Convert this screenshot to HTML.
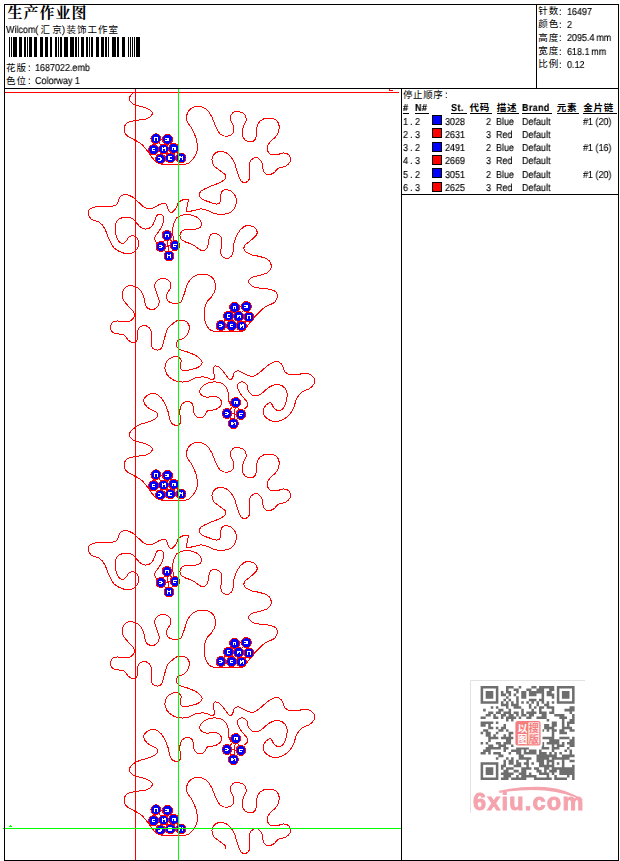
<!DOCTYPE html>
<html><head><meta charset="utf-8"><title>worksheet</title>
<style>
html,body{margin:0;padding:0;background:#fff}
body{width:620px;height:861px;position:relative;overflow:hidden;font-family:"Liberation Sans",sans-serif;font-size:9px;color:#000}
svg{position:absolute;left:0;top:0}
.t{position:absolute;white-space:pre;line-height:11px;height:11px;transform-origin:0 0;transform:scaleX(0.89);font-size:10.1px;text-rendering:geometricPrecision;-webkit-text-stroke:0.15px #000;will-change:transform}
.b{font-weight:bold;letter-spacing:0.4px}
.u{border-bottom:1px solid #000;height:11px;line-height:11px}
.r{text-align:right}
.sw{position:absolute;width:8px;height:8px;border:1px solid #000}
.logo{position:absolute;left:473.3px;top:787.6px;width:116px;font-weight:bold;font-size:23.5px;line-height:28px;color:#f5a3ad;letter-spacing:1.2px;white-space:pre;-webkit-text-stroke:0.9px #f5a3ad;will-change:transform}
.cj{font-family:"Liberation Sans","Noto Sans CJK SC",sans-serif;font-size:9.5px;fill:#000}
.cjb{font-family:"Liberation Sans","Noto Sans CJK SC",sans-serif;font-size:9.5px;font-weight:bold;fill:#000}
</style></head><body>
<svg width="620" height="861" viewBox="0 0 620 861">
<g transform="translate(-0.3,0.5)"><path d="M134.3 91.8C133.7 92.3 131.6 93.9 130.8 95.0C130.1 96.1 129.7 97.3 129.8 98.5C129.9 99.7 130.6 101.0 131.6 102.0C132.6 103.0 133.9 103.8 136.0 104.6C138.1 105.4 141.5 105.7 144.0 106.6C146.5 107.5 149.6 108.8 151.0 110.0C152.4 111.2 153.1 112.3 152.6 113.6C152.1 114.9 150.2 117.0 147.8 118.0C145.4 119.0 141.3 119.1 138.0 119.8C134.7 120.5 130.3 120.6 128.0 122.0C125.7 123.4 124.6 125.8 124.4 128.0C124.2 130.2 125.4 133.2 127.0 135.0C128.6 136.8 131.7 137.7 134.0 139.0C136.3 140.3 139.2 141.7 141.0 143.0C142.8 144.3 143.6 145.3 145.0 147.0C146.4 148.7 148.0 151.0 149.5 153.0C151.0 155.0 152.4 157.3 154.0 159.0C155.6 160.7 157.0 162.2 159.0 163.0C161.0 163.8 163.2 163.8 166.0 164.0C168.8 164.2 172.7 164.0 176.0 164.0C179.3 164.0 183.3 164.5 186.0 163.8C188.7 163.1 190.2 162.0 192.0 160.0C193.8 158.0 196.2 155.3 197.0 152.0C197.8 148.7 197.8 144.0 197.0 140.0C196.2 136.0 193.7 131.3 192.0 128.0C190.3 124.7 187.7 122.7 187.0 120.0C186.3 117.3 187.0 114.2 188.0 112.0C189.0 109.8 191.0 108.0 193.0 107.0C195.0 106.0 197.7 105.7 200.0 106.0C202.3 106.3 205.0 107.3 207.0 109.0C209.0 110.7 210.5 113.2 212.0 116.0C213.5 118.8 214.5 123.0 216.0 126.0C217.5 129.0 219.0 132.4 221.0 134.0C223.0 135.6 225.9 135.9 228.0 135.6C230.1 135.3 232.7 133.8 233.6 132.0C234.5 130.2 234.1 127.3 233.6 125.0C233.1 122.7 230.5 120.1 230.4 118.0C230.3 115.9 231.6 113.6 233.0 112.4C234.4 111.2 237.0 110.7 239.0 111.0C241.0 111.3 243.8 112.5 245.0 114.0C246.2 115.5 246.7 117.7 246.4 120.0C246.1 122.3 243.6 125.3 243.0 128.0C242.4 130.7 242.2 133.8 243.0 136.0C243.8 138.2 246.2 140.3 248.0 141.0C249.8 141.7 252.5 141.4 254.0 140.4C255.5 139.4 256.5 137.2 257.0 135.0C257.5 132.8 256.3 129.5 257.0 127.0C257.7 124.5 259.0 121.6 261.0 120.0C263.0 118.4 266.3 117.6 269.0 117.6C271.7 117.6 275.2 118.4 277.0 120.0C278.8 121.6 279.6 124.5 279.6 127.0C279.6 129.5 278.6 132.5 277.0 135.0C275.4 137.5 271.6 139.8 270.0 142.0C268.4 144.2 267.2 146.0 267.4 148.0C267.6 150.0 269.2 153.0 271.0 154.0C272.8 155.0 275.8 154.3 278.0 154.0C280.2 153.7 282.1 152.2 284.0 152.4C285.9 152.6 288.5 153.6 289.6 155.0C290.7 156.4 291.0 159.2 290.4 161.0C289.8 162.8 287.9 164.5 286.0 165.6C284.1 166.7 281.0 166.5 279.0 167.6C277.0 168.7 275.8 171.3 274.0 172.4C272.2 173.5 269.7 174.6 268.0 174.4C266.3 174.2 264.9 172.9 264.0 171.0C263.1 169.1 263.2 165.2 262.4 163.0C261.6 160.8 260.4 158.9 259.0 158.0C257.6 157.1 255.5 156.9 254.0 157.6C252.5 158.3 250.7 159.6 250.0 162.0C249.3 164.4 250.0 169.3 250.0 172.0C250.0 174.7 250.7 176.3 250.0 178.0C249.3 179.7 247.5 181.7 246.0 182.0C244.5 182.3 242.3 181.5 241.0 180.0C239.7 178.5 239.0 175.8 238.0 173.0C237.0 170.2 236.3 166.0 235.0 163.0C233.7 160.0 232.0 157.0 230.0 155.0C228.0 153.0 225.3 151.4 223.0 151.0C220.7 150.6 217.8 151.2 216.0 152.4C214.2 153.6 212.7 155.9 212.4 158.0C212.1 160.1 212.7 163.0 214.0 165.0C215.3 167.0 218.1 168.4 220.0 170.0C221.9 171.6 224.8 172.9 225.6 174.4C226.4 175.9 226.3 177.6 225.0 179.0C223.7 180.4 220.8 181.7 218.0 183.0C215.2 184.3 210.8 185.7 208.0 187.0C205.2 188.3 202.4 189.7 201.0 191.0C199.6 192.3 199.1 193.7 199.4 195.0C199.7 196.3 201.2 197.9 203.0 199.0C204.8 200.1 207.7 200.8 210.0 201.6C212.3 202.4 215.2 203.7 217.0 203.6C218.8 203.5 220.3 202.4 221.0 201.0C221.7 199.6 220.7 196.8 221.0 195.0C221.3 193.2 221.8 190.9 223.0 190.0C224.2 189.1 226.3 189.1 228.0 189.4C229.7 189.7 231.6 190.6 233.0 192.0C234.4 193.4 236.0 195.7 236.4 198.0C236.8 200.3 236.5 203.7 235.6 206.0C234.7 208.3 233.1 210.3 231.0 211.6C228.9 212.9 225.7 213.8 223.0 214.0C220.3 214.2 217.7 213.7 215.0 213.0C212.3 212.3 209.3 210.4 207.0 209.6C204.7 208.8 203.2 208.3 201.0 208.4C198.8 208.5 196.3 209.6 194.0 210.0C191.7 210.4 188.1 211.8 187.0 211.0C185.9 210.2 187.4 207.0 187.6 205.0C187.8 203.0 189.2 199.9 188.4 199.0C187.6 198.1 184.6 198.9 183.0 199.4C181.4 199.9 180.2 200.6 179.0 202.0C177.8 203.4 177.2 206.3 176.0 208.0C174.8 209.7 173.2 211.7 172.0 212.0C170.8 212.3 170.0 211.5 169.0 210.0C168.0 208.5 167.5 204.0 166.0 203.0C164.5 202.0 162.3 203.2 160.0 204.0C157.7 204.8 154.5 207.5 152.0 208.0C149.5 208.5 147.3 208.2 145.0 207.0C142.7 205.8 140.2 202.8 138.0 201.0C135.8 199.2 134.2 197.2 132.0 196.0C129.8 194.8 127.0 193.8 125.0 194.0C123.0 194.2 121.3 195.3 120.0 197.0C118.7 198.7 118.7 202.5 117.0 204.0C115.3 205.5 113.2 205.7 110.0 206.0C106.8 206.3 101.2 205.7 98.0 206.0C94.8 206.3 92.6 206.8 91.0 208.0C89.4 209.2 88.2 211.2 88.4 213.0C88.6 214.8 90.1 217.5 92.0 219.0C93.9 220.5 97.8 220.5 100.0 222.0C102.2 223.5 103.5 225.3 105.0 228.0C106.5 230.7 107.5 234.8 109.0 238.0C110.5 241.2 111.8 244.7 114.0 247.0C116.2 249.3 119.2 251.0 122.0 252.0C124.8 253.0 128.5 253.5 131.0 253.0C133.5 252.5 135.7 250.8 137.0 249.0C138.3 247.2 139.2 244.2 139.0 242.0C138.8 239.8 137.1 237.0 135.6 236.0C134.1 235.0 131.6 235.2 130.0 236.0C128.4 236.8 127.3 239.8 126.0 241.0C124.7 242.2 123.3 243.3 122.0 243.0C120.7 242.7 119.1 241.2 118.0 239.0C116.9 236.8 115.8 233.0 115.6 230.0C115.4 227.0 115.8 223.2 117.0 221.0C118.2 218.8 120.8 217.7 123.0 217.0C125.2 216.3 128.0 216.5 130.0 217.0C132.0 217.5 133.3 218.5 135.0 220.0C136.7 221.5 138.2 224.6 140.0 226.0C141.8 227.4 144.0 228.6 146.0 228.6C148.0 228.6 150.5 227.4 152.0 226.0C153.5 224.6 154.2 221.8 155.0 220.0C155.8 218.2 156.0 216.0 157.0 215.0C158.0 214.0 159.8 213.7 161.0 214.0C162.2 214.3 163.7 215.3 164.0 217.0C164.3 218.7 163.8 221.7 163.0 224.0C162.2 226.3 160.3 228.8 159.0 231.0C157.7 233.2 155.3 235.0 155.0 237.0C154.7 239.0 156.7 242.0 157.0 243.0M174.0 241.0C173.8 239.5 173.1 234.6 173.0 232.0C172.9 229.4 173.0 227.6 173.5 225.4C174.0 223.2 175.2 220.1 176.0 218.6C176.8 217.1 177.1 216.9 178.4 216.2C179.7 215.5 181.8 214.7 183.7 214.3C185.5 213.9 187.4 213.7 189.5 214.0C191.6 214.3 194.4 215.2 196.3 216.2C198.2 217.2 199.8 218.6 200.7 220.0C201.6 221.4 201.8 223.2 201.6 224.5C201.3 225.8 200.6 227.1 199.2 227.8C197.8 228.5 195.5 228.6 193.4 228.8C191.3 229.0 188.4 228.5 186.6 228.8C184.8 229.1 183.4 229.7 182.3 230.7C181.2 231.7 180.5 233.3 180.3 234.6C180.1 235.9 180.4 237.4 181.3 238.5C182.2 239.6 183.8 240.5 185.6 241.4C187.4 242.3 190.3 242.8 192.4 243.8C194.5 244.9 196.4 246.6 198.2 247.7C200.0 248.8 201.4 250.5 203.0 250.4C204.6 250.3 206.6 248.7 207.6 247.0C208.6 245.3 208.4 242.1 209.0 240.0C209.6 237.9 209.8 235.6 211.0 234.4C212.2 233.2 214.3 232.7 216.0 233.0C217.7 233.3 220.0 234.2 221.0 236.0C222.0 237.8 222.0 241.3 222.0 244.0C222.0 246.7 220.7 249.8 221.0 252.0C221.3 254.2 222.7 256.1 224.0 257.0C225.3 257.9 227.5 258.3 229.0 257.6C230.5 256.9 232.2 255.3 233.0 253.0C233.8 250.7 233.2 247.3 234.0 244.0C234.8 240.7 236.3 235.9 238.0 233.0C239.7 230.1 242.0 227.7 244.0 226.4C246.0 225.1 248.0 224.7 250.0 225.0C252.0 225.3 254.8 226.5 256.0 228.0C257.2 229.5 257.8 232.0 257.0 234.0C256.2 236.0 253.0 238.2 251.0 240.0C249.0 241.8 246.0 243.3 245.0 245.0C244.0 246.7 244.0 248.5 245.0 250.0C246.0 251.5 248.5 253.0 251.0 254.0C253.5 255.0 257.2 255.2 260.0 256.0C262.8 256.8 266.1 257.5 268.0 259.0C269.9 260.5 271.6 262.8 271.6 265.0C271.6 267.2 270.1 270.3 268.0 272.0C265.9 273.7 261.7 274.2 259.0 275.0C256.3 275.8 253.7 276.1 252.0 277.0C250.3 277.9 249.2 279.3 249.0 280.5C248.8 281.7 249.7 283.0 250.5 284.0C251.3 285.0 252.4 285.7 254.0 286.3C255.6 286.9 257.7 287.4 260.0 287.7C262.3 288.0 265.6 288.0 268.0 288.4C270.4 288.8 273.1 289.4 274.7 290.3C276.3 291.2 277.2 292.6 277.6 294.0C278.0 295.4 277.5 297.2 277.0 298.5C276.5 299.8 275.9 300.9 274.7 301.9C273.5 302.9 271.6 303.5 270.0 304.3C268.4 305.1 266.8 305.5 265.0 306.8C263.2 308.1 261.1 310.2 259.2 312.1C257.3 314.0 255.3 316.1 253.4 318.4C251.5 320.6 249.1 323.7 247.6 325.6C246.1 327.5 245.7 328.7 244.6 329.6C243.5 330.5 242.8 330.9 241.0 331.2C239.2 331.5 236.7 331.4 234.0 331.4C231.3 331.4 228.0 331.4 225.0 331.4C222.0 331.4 218.5 331.6 216.0 331.2C213.5 330.8 211.7 330.5 210.0 329.0C208.3 327.5 206.5 324.8 205.6 322.0C204.7 319.2 204.2 315.3 204.4 312.0C204.6 308.7 205.7 304.7 207.0 302.0C208.3 299.3 210.6 298.2 212.0 296.0C213.4 293.8 215.1 291.5 215.6 289.0C216.1 286.5 215.9 283.3 215.0 281.0C214.1 278.7 212.2 276.2 210.0 275.0C207.8 273.8 204.7 273.4 202.0 273.6C199.3 273.8 196.3 274.4 194.0 276.0C191.7 277.6 189.5 280.3 188.0 283.0C186.5 285.7 186.2 288.9 185.0 292.0C183.8 295.1 182.8 299.8 181.0 301.6C179.2 303.4 176.2 303.3 174.0 303.0C171.8 302.7 169.2 301.5 168.0 300.0C166.8 298.5 166.5 296.2 167.0 294.0C167.5 291.8 170.5 289.2 171.0 287.0C171.5 284.8 171.2 282.5 170.0 281.0C168.8 279.5 166.0 278.2 164.0 278.0C162.0 277.8 159.5 278.4 158.0 279.6C156.5 280.8 155.2 282.8 155.0 285.0C154.8 287.2 156.2 290.3 157.0 293.0C157.8 295.7 159.6 298.7 159.6 301.0C159.6 303.3 158.4 305.7 157.0 307.0C155.6 308.3 152.8 309.3 151.0 309.0C149.2 308.7 147.2 307.2 146.0 305.0C144.8 302.8 145.0 298.7 144.0 296.0C143.0 293.3 141.7 290.7 140.0 289.0C138.3 287.3 136.2 286.1 134.0 285.6C131.8 285.1 128.8 285.1 127.0 286.0C125.2 286.9 123.7 289.0 123.0 291.0C122.3 293.0 122.2 295.7 123.0 298.0C123.8 300.3 126.2 302.8 128.0 305.0C129.8 307.2 132.6 309.0 133.6 311.0C134.6 313.0 134.8 315.3 134.0 317.0C133.2 318.7 131.2 320.4 129.0 321.0C126.8 321.6 123.5 320.6 121.0 320.6C118.5 320.6 115.7 320.1 114.0 321.0C112.3 321.9 111.2 324.2 111.0 326.0C110.8 327.8 111.5 330.7 113.0 332.0C114.5 333.3 118.0 333.1 120.0 333.6C122.0 334.1 123.5 333.9 125.0 335.0C126.5 336.1 127.5 338.8 129.0 340.0C130.5 341.2 132.6 342.6 134.0 342.4C135.4 342.2 136.9 341.2 137.6 339.0C138.3 336.8 137.7 331.2 138.4 329.0C139.1 326.8 140.4 326.1 142.0 325.6C143.6 325.1 146.4 325.1 148.0 326.0C149.6 326.9 150.9 329.0 151.6 331.0C152.3 333.0 152.0 335.7 152.0 338.0C152.0 340.3 151.1 343.2 151.6 345.0C152.1 346.8 153.4 348.4 155.0 349.0C156.6 349.6 159.5 349.7 161.0 348.4C162.5 347.1 163.0 344.1 164.0 341.0C165.0 337.9 166.0 332.5 167.0 330.0C168.0 327.5 168.3 327.6 170.0 326.0C171.7 324.4 174.7 321.4 177.0 320.4C179.3 319.4 182.0 319.4 184.0 320.0C186.0 320.6 188.2 322.2 189.0 324.0C189.8 325.8 189.7 328.8 189.0 331.0C188.3 333.2 186.8 335.4 185.0 337.0C183.2 338.6 179.4 339.2 178.0 340.4C176.6 341.6 176.2 342.7 176.4 344.0C176.6 345.3 177.1 347.1 179.0 348.4C180.9 349.7 185.0 350.4 188.0 351.6C191.0 352.8 194.6 353.9 197.0 355.6C199.4 357.3 202.2 359.7 202.4 361.6C202.6 363.5 200.2 365.7 198.0 367.0C195.8 368.3 191.5 369.1 189.0 369.6C186.5 370.1 184.4 370.6 183.0 370.0C181.6 369.4 180.7 367.7 180.4 366.0C180.1 364.3 181.8 361.6 181.4 360.0C181.0 358.4 179.6 356.9 178.0 356.4C176.4 355.9 173.9 356.1 172.0 357.0C170.1 357.9 167.5 359.8 166.4 362.0C165.3 364.2 165.0 367.5 165.6 370.0C166.2 372.5 167.9 375.2 170.0 377.0C172.1 378.8 175.0 380.3 178.0 381.0C181.0 381.7 185.2 381.6 188.0 381.0C190.8 380.4 192.7 378.4 195.0 377.6C197.3 376.8 200.0 376.5 202.0 376.4C204.0 376.3 205.3 376.6 207.0 377.0C208.7 377.4 210.7 379.0 212.0 379.0C213.3 379.0 214.7 378.5 215.0 377.0C215.3 375.5 213.6 371.9 213.6 370.0C213.6 368.1 213.9 366.1 215.0 365.6C216.1 365.1 218.3 365.8 220.0 367.0C221.7 368.2 223.3 371.0 225.0 373.0C226.7 375.0 228.7 378.3 230.0 379.0C231.3 379.7 232.3 378.2 233.0 377.0C233.7 375.8 233.4 373.1 234.4 372.0C235.4 370.9 237.1 370.1 239.0 370.4C240.9 370.7 243.7 373.1 246.0 374.0C248.3 374.9 250.7 376.3 253.0 376.0C255.3 375.7 257.5 373.8 260.0 372.0C262.5 370.2 265.3 366.8 268.0 365.0C270.7 363.2 273.7 361.2 276.0 361.0C278.3 360.8 280.5 361.9 282.0 363.6C283.5 365.3 283.5 369.2 285.0 371.0C286.5 372.8 288.5 374.0 291.0 374.4C293.5 374.8 297.2 373.8 300.0 373.6C302.8 373.4 305.7 372.4 308.0 373.0C310.3 373.6 312.9 375.3 314.0 377.0C315.1 378.7 315.1 381.2 314.4 383.0C313.7 384.8 312.1 386.6 310.0 388.0C307.9 389.4 304.2 389.9 302.0 391.6C299.8 393.3 298.3 395.4 297.0 398.0C295.7 400.6 295.3 404.2 294.0 407.0C292.7 409.8 291.2 412.8 289.0 415.0C286.8 417.2 283.7 419.1 281.0 420.0C278.3 420.9 275.5 421.1 273.0 420.6C270.5 420.1 267.6 418.6 266.0 417.0C264.4 415.4 263.6 413.0 263.6 411.0C263.6 409.0 264.8 406.4 266.0 405.0C267.2 403.6 269.7 402.1 271.0 402.4C272.3 402.7 272.7 405.7 274.0 407.0C275.3 408.3 277.3 410.4 279.0 410.4C280.7 410.4 282.7 408.9 284.0 407.0C285.3 405.1 286.5 401.7 287.0 399.0C287.5 396.3 287.7 393.2 287.0 391.0C286.3 388.8 284.8 386.8 283.0 385.6C281.2 384.4 278.3 383.8 276.0 384.0C273.7 384.2 271.5 385.4 269.0 387.0C266.5 388.6 263.5 392.2 261.0 393.6C258.5 395.0 256.0 395.8 254.0 395.4C252.0 395.0 250.2 392.9 249.0 391.0C247.8 389.1 248.0 385.6 247.0 384.0C246.0 382.4 244.4 381.6 243.0 381.4C241.6 381.2 239.2 381.9 238.4 383.0C237.6 384.1 237.4 386.0 238.0 388.0C238.6 390.0 240.5 392.8 242.0 395.0C243.5 397.2 246.0 399.3 247.0 401.0C248.0 402.7 248.5 403.7 248.0 405.0C247.5 406.3 244.7 408.3 244.0 409.0M231.0 405.0C230.7 404.2 229.5 402.5 229.0 400.0C228.5 397.5 228.8 392.7 228.0 390.0C227.2 387.3 226.0 385.4 224.0 384.0C222.0 382.6 218.8 381.6 216.0 381.4C213.2 381.2 209.5 381.9 207.0 383.0C204.5 384.1 202.0 386.2 201.0 388.0C200.0 389.8 200.0 392.6 201.0 394.0C202.0 395.4 204.7 396.3 207.0 396.6C209.3 396.9 212.8 395.8 215.0 396.0C217.2 396.2 218.9 396.7 220.0 398.0C221.1 399.3 222.3 402.2 221.6 404.0C220.9 405.8 218.3 407.9 216.0 409.0C213.7 410.1 210.0 409.2 208.0 410.4C206.0 411.6 205.7 414.9 204.0 416.0C202.3 417.1 199.7 417.7 198.0 417.0C196.3 416.3 194.8 414.2 194.0 412.0C193.2 409.8 194.0 405.8 193.0 404.0C192.0 402.2 189.8 401.0 188.0 401.0C186.2 401.0 183.3 402.3 182.0 404.0C180.7 405.7 180.2 408.0 180.0 411.0C179.8 414.0 181.7 419.7 181.0 422.0C180.3 424.3 177.7 425.2 176.0 425.0C174.3 424.8 172.3 423.5 171.0 421.0C169.7 418.5 169.2 413.3 168.0 410.0C166.8 406.7 165.5 403.5 164.0 401.0C162.5 398.5 161.0 396.3 159.0 395.0C157.0 393.7 154.2 392.8 152.0 393.0C149.8 393.2 147.3 394.7 146.0 396.0C144.7 397.3 143.7 399.2 144.0 401.0C144.3 402.8 145.8 405.2 148.0 407.0C150.2 408.8 155.5 410.3 157.0 412.0C158.5 413.7 158.2 415.5 157.0 417.0C155.8 418.5 152.8 419.8 150.0 421.0C147.2 422.2 142.6 422.9 140.0 424.0C137.4 425.1 135.8 426.6 134.3 427.8C132.8 429.0 131.6 429.9 130.8 431.0C130.1 432.1 129.7 433.3 129.8 434.5C129.9 435.7 130.6 437.0 131.6 438.0C132.6 439.0 133.9 439.8 136.0 440.6C138.1 441.4 141.5 441.7 144.0 442.6C146.5 443.5 149.6 444.8 151.0 446.0C152.4 447.2 153.1 448.3 152.6 449.6C152.1 450.9 150.2 453.0 147.8 454.0C145.4 455.0 141.3 455.1 138.0 455.8C134.7 456.5 130.3 456.6 128.0 458.0C125.7 459.4 124.6 461.8 124.4 464.0C124.2 466.2 125.4 469.2 127.0 471.0C128.6 472.8 131.7 473.7 134.0 475.0C136.3 476.3 139.2 477.7 141.0 479.0C142.8 480.3 143.6 481.3 145.0 483.0C146.4 484.7 148.0 487.0 149.5 489.0C151.0 491.0 152.4 493.3 154.0 495.0C155.6 496.7 157.0 498.2 159.0 499.0C161.0 499.8 163.2 499.8 166.0 500.0C168.8 500.2 172.7 500.0 176.0 500.0C179.3 500.0 183.3 500.5 186.0 499.8C188.7 499.1 190.2 498.0 192.0 496.0C193.8 494.0 196.2 491.3 197.0 488.0C197.8 484.7 197.8 480.0 197.0 476.0C196.2 472.0 193.7 467.3 192.0 464.0C190.3 460.7 187.7 458.7 187.0 456.0C186.3 453.3 187.0 450.2 188.0 448.0C189.0 445.8 191.0 444.0 193.0 443.0C195.0 442.0 197.7 441.7 200.0 442.0C202.3 442.3 205.0 443.3 207.0 445.0C209.0 446.7 210.5 449.2 212.0 452.0C213.5 454.8 214.5 459.0 216.0 462.0C217.5 465.0 219.0 468.4 221.0 470.0C223.0 471.6 225.9 471.9 228.0 471.6C230.1 471.3 232.7 469.8 233.6 468.0C234.5 466.2 234.1 463.3 233.6 461.0C233.1 458.7 230.5 456.1 230.4 454.0C230.3 451.9 231.6 449.6 233.0 448.4C234.4 447.2 237.0 446.7 239.0 447.0C241.0 447.3 243.8 448.5 245.0 450.0C246.2 451.5 246.7 453.7 246.4 456.0C246.1 458.3 243.6 461.3 243.0 464.0C242.4 466.7 242.2 469.8 243.0 472.0C243.8 474.2 246.2 476.3 248.0 477.0C249.8 477.7 252.5 477.4 254.0 476.4C255.5 475.4 256.5 473.2 257.0 471.0C257.5 468.8 256.3 465.5 257.0 463.0C257.7 460.5 259.0 457.6 261.0 456.0C263.0 454.4 266.3 453.6 269.0 453.6C271.7 453.6 275.2 454.4 277.0 456.0C278.8 457.6 279.6 460.5 279.6 463.0C279.6 465.5 278.6 468.5 277.0 471.0C275.4 473.5 271.6 475.8 270.0 478.0C268.4 480.2 267.2 482.0 267.4 484.0C267.6 486.0 269.2 489.0 271.0 490.0C272.8 491.0 275.8 490.3 278.0 490.0C280.2 489.7 282.1 488.2 284.0 488.4C285.9 488.6 288.5 489.6 289.6 491.0C290.7 492.4 291.0 495.2 290.4 497.0C289.8 498.8 287.9 500.5 286.0 501.6C284.1 502.7 281.0 502.5 279.0 503.6C277.0 504.7 275.8 507.3 274.0 508.4C272.2 509.5 269.7 510.6 268.0 510.4C266.3 510.2 264.9 508.9 264.0 507.0C263.1 505.1 263.2 501.2 262.4 499.0C261.6 496.8 260.4 494.9 259.0 494.0C257.6 493.1 255.5 492.9 254.0 493.6C252.5 494.3 250.7 495.6 250.0 498.0C249.3 500.4 250.0 505.3 250.0 508.0C250.0 510.7 250.7 512.3 250.0 514.0C249.3 515.7 247.5 517.7 246.0 518.0C244.5 518.3 242.3 517.5 241.0 516.0C239.7 514.5 239.0 511.8 238.0 509.0C237.0 506.2 236.3 502.0 235.0 499.0C233.7 496.0 232.0 493.0 230.0 491.0C228.0 489.0 225.3 487.4 223.0 487.0C220.7 486.6 217.8 487.2 216.0 488.4C214.2 489.6 212.7 491.9 212.4 494.0C212.1 496.1 212.7 499.0 214.0 501.0C215.3 503.0 218.1 504.4 220.0 506.0C221.9 507.6 224.8 508.9 225.6 510.4C226.4 511.9 226.3 513.6 225.0 515.0C223.7 516.4 220.8 517.7 218.0 519.0C215.2 520.3 210.8 521.7 208.0 523.0C205.2 524.3 202.4 525.7 201.0 527.0C199.6 528.3 199.1 529.7 199.4 531.0C199.7 532.3 201.2 533.9 203.0 535.0C204.8 536.1 207.7 536.8 210.0 537.6C212.3 538.4 215.2 539.7 217.0 539.6C218.8 539.5 220.3 538.4 221.0 537.0C221.7 535.6 220.7 532.8 221.0 531.0C221.3 529.2 221.8 526.9 223.0 526.0C224.2 525.1 226.3 525.1 228.0 525.4C229.7 525.7 231.6 526.6 233.0 528.0C234.4 529.4 236.0 531.7 236.4 534.0C236.8 536.3 236.5 539.7 235.6 542.0C234.7 544.3 233.1 546.3 231.0 547.6C228.9 548.9 225.7 549.8 223.0 550.0C220.3 550.2 217.7 549.7 215.0 549.0C212.3 548.3 209.3 546.4 207.0 545.6C204.7 544.8 203.2 544.3 201.0 544.4C198.8 544.5 196.3 545.6 194.0 546.0C191.7 546.4 188.1 547.8 187.0 547.0C185.9 546.2 187.4 543.0 187.6 541.0C187.8 539.0 189.2 535.9 188.4 535.0C187.6 534.1 184.6 534.9 183.0 535.4C181.4 535.9 180.2 536.6 179.0 538.0C177.8 539.4 177.2 542.3 176.0 544.0C174.8 545.7 173.2 547.7 172.0 548.0C170.8 548.3 170.0 547.5 169.0 546.0C168.0 544.5 167.5 540.0 166.0 539.0C164.5 538.0 162.3 539.2 160.0 540.0C157.7 540.8 154.5 543.5 152.0 544.0C149.5 544.5 147.3 544.2 145.0 543.0C142.7 541.8 140.2 538.8 138.0 537.0C135.8 535.2 134.2 533.2 132.0 532.0C129.8 530.8 127.0 529.8 125.0 530.0C123.0 530.2 121.3 531.3 120.0 533.0C118.7 534.7 118.7 538.5 117.0 540.0C115.3 541.5 113.2 541.7 110.0 542.0C106.8 542.3 101.2 541.7 98.0 542.0C94.8 542.3 92.6 542.8 91.0 544.0C89.4 545.2 88.2 547.2 88.4 549.0C88.6 550.8 90.1 553.5 92.0 555.0C93.9 556.5 97.8 556.5 100.0 558.0C102.2 559.5 103.5 561.3 105.0 564.0C106.5 566.7 107.5 570.8 109.0 574.0C110.5 577.2 111.8 580.7 114.0 583.0C116.2 585.3 119.2 587.0 122.0 588.0C124.8 589.0 128.5 589.5 131.0 589.0C133.5 588.5 135.7 586.8 137.0 585.0C138.3 583.2 139.2 580.2 139.0 578.0C138.8 575.8 137.1 573.0 135.6 572.0C134.1 571.0 131.6 571.2 130.0 572.0C128.4 572.8 127.3 575.8 126.0 577.0C124.7 578.2 123.3 579.3 122.0 579.0C120.7 578.7 119.1 577.2 118.0 575.0C116.9 572.8 115.8 569.0 115.6 566.0C115.4 563.0 115.8 559.2 117.0 557.0C118.2 554.8 120.8 553.7 123.0 553.0C125.2 552.3 128.0 552.5 130.0 553.0C132.0 553.5 133.3 554.5 135.0 556.0C136.7 557.5 138.2 560.6 140.0 562.0C141.8 563.4 144.0 564.6 146.0 564.6C148.0 564.6 150.5 563.4 152.0 562.0C153.5 560.6 154.2 557.8 155.0 556.0C155.8 554.2 156.0 552.0 157.0 551.0C158.0 550.0 159.8 549.7 161.0 550.0C162.2 550.3 163.7 551.3 164.0 553.0C164.3 554.7 163.8 557.7 163.0 560.0C162.2 562.3 160.3 564.8 159.0 567.0C157.7 569.2 155.3 571.0 155.0 573.0C154.7 575.0 156.7 578.0 157.0 579.0M174.0 577.0C173.8 575.5 173.1 570.6 173.0 568.0C172.9 565.4 173.0 563.6 173.5 561.4C174.0 559.2 175.2 556.1 176.0 554.6C176.8 553.1 177.1 552.9 178.4 552.2C179.7 551.5 181.8 550.7 183.7 550.3C185.5 549.9 187.4 549.7 189.5 550.0C191.6 550.3 194.4 551.2 196.3 552.2C198.2 553.2 199.8 554.6 200.7 556.0C201.6 557.4 201.8 559.2 201.6 560.5C201.3 561.8 200.6 563.1 199.2 563.8C197.8 564.5 195.5 564.6 193.4 564.8C191.3 565.0 188.4 564.5 186.6 564.8C184.8 565.1 183.4 565.7 182.3 566.7C181.2 567.7 180.5 569.3 180.3 570.6C180.1 571.9 180.4 573.4 181.3 574.5C182.2 575.6 183.8 576.5 185.6 577.4C187.4 578.3 190.3 578.8 192.4 579.8C194.5 580.8 196.4 582.6 198.2 583.7C200.0 584.8 201.4 586.5 203.0 586.4C204.6 586.3 206.6 584.7 207.6 583.0C208.6 581.3 208.4 578.1 209.0 576.0C209.6 573.9 209.8 571.6 211.0 570.4C212.2 569.2 214.3 568.7 216.0 569.0C217.7 569.3 220.0 570.2 221.0 572.0C222.0 573.8 222.0 577.3 222.0 580.0C222.0 582.7 220.7 585.8 221.0 588.0C221.3 590.2 222.7 592.1 224.0 593.0C225.3 593.9 227.5 594.3 229.0 593.6C230.5 592.9 232.2 591.3 233.0 589.0C233.8 586.7 233.2 583.3 234.0 580.0C234.8 576.7 236.3 571.9 238.0 569.0C239.7 566.1 242.0 563.7 244.0 562.4C246.0 561.1 248.0 560.7 250.0 561.0C252.0 561.3 254.8 562.5 256.0 564.0C257.2 565.5 257.8 568.0 257.0 570.0C256.2 572.0 253.0 574.2 251.0 576.0C249.0 577.8 246.0 579.3 245.0 581.0C244.0 582.7 244.0 584.5 245.0 586.0C246.0 587.5 248.5 589.0 251.0 590.0C253.5 591.0 257.2 591.2 260.0 592.0C262.8 592.8 266.1 593.5 268.0 595.0C269.9 596.5 271.6 598.8 271.6 601.0C271.6 603.2 270.1 606.3 268.0 608.0C265.9 609.7 261.7 610.2 259.0 611.0C256.3 611.8 253.7 612.1 252.0 613.0C250.3 613.9 249.2 615.3 249.0 616.5C248.8 617.7 249.7 619.0 250.5 620.0C251.3 621.0 252.4 621.7 254.0 622.3C255.6 622.9 257.7 623.4 260.0 623.7C262.3 624.1 265.6 624.0 268.0 624.4C270.4 624.8 273.1 625.4 274.7 626.3C276.3 627.2 277.2 628.6 277.6 630.0C278.0 631.4 277.5 633.2 277.0 634.5C276.5 635.8 275.9 636.9 274.7 637.9C273.5 638.9 271.6 639.5 270.0 640.3C268.4 641.1 266.8 641.5 265.0 642.8C263.2 644.1 261.1 646.2 259.2 648.1C257.3 650.0 255.3 652.1 253.4 654.4C251.5 656.6 249.1 659.7 247.6 661.6C246.1 663.5 245.7 664.7 244.6 665.6C243.5 666.5 242.8 666.9 241.0 667.2C239.2 667.5 236.7 667.4 234.0 667.4C231.3 667.4 228.0 667.4 225.0 667.4C222.0 667.4 218.5 667.6 216.0 667.2C213.5 666.8 211.7 666.5 210.0 665.0C208.3 663.5 206.5 660.8 205.6 658.0C204.7 655.2 204.2 651.3 204.4 648.0C204.6 644.7 205.7 640.7 207.0 638.0C208.3 635.3 210.6 634.2 212.0 632.0C213.4 629.8 215.1 627.5 215.6 625.0C216.1 622.5 215.9 619.3 215.0 617.0C214.1 614.7 212.2 612.2 210.0 611.0C207.8 609.8 204.7 609.4 202.0 609.6C199.3 609.8 196.3 610.4 194.0 612.0C191.7 613.6 189.5 616.3 188.0 619.0C186.5 621.7 186.2 624.9 185.0 628.0C183.8 631.1 182.8 635.8 181.0 637.6C179.2 639.4 176.2 639.3 174.0 639.0C171.8 638.7 169.2 637.5 168.0 636.0C166.8 634.5 166.5 632.2 167.0 630.0C167.5 627.8 170.5 625.2 171.0 623.0C171.5 620.8 171.2 618.5 170.0 617.0C168.8 615.5 166.0 614.2 164.0 614.0C162.0 613.8 159.5 614.4 158.0 615.6C156.5 616.8 155.2 618.8 155.0 621.0C154.8 623.2 156.2 626.3 157.0 629.0C157.8 631.7 159.6 634.7 159.6 637.0C159.6 639.3 158.4 641.7 157.0 643.0C155.6 644.3 152.8 645.3 151.0 645.0C149.2 644.7 147.2 643.2 146.0 641.0C144.8 638.8 145.0 634.7 144.0 632.0C143.0 629.3 141.7 626.7 140.0 625.0C138.3 623.3 136.2 622.1 134.0 621.6C131.8 621.1 128.8 621.1 127.0 622.0C125.2 622.9 123.7 625.0 123.0 627.0C122.3 629.0 122.2 631.7 123.0 634.0C123.8 636.3 126.2 638.8 128.0 641.0C129.8 643.2 132.6 645.0 133.6 647.0C134.6 649.0 134.8 651.3 134.0 653.0C133.2 654.7 131.2 656.4 129.0 657.0C126.8 657.6 123.5 656.6 121.0 656.6C118.5 656.6 115.7 656.1 114.0 657.0C112.3 657.9 111.2 660.2 111.0 662.0C110.8 663.8 111.5 666.7 113.0 668.0C114.5 669.3 118.0 669.1 120.0 669.6C122.0 670.1 123.5 669.9 125.0 671.0C126.5 672.1 127.5 674.8 129.0 676.0C130.5 677.2 132.6 678.6 134.0 678.4C135.4 678.2 136.9 677.2 137.6 675.0C138.3 672.8 137.7 667.2 138.4 665.0C139.1 662.8 140.4 662.1 142.0 661.6C143.6 661.1 146.4 661.1 148.0 662.0C149.6 662.9 150.9 665.0 151.6 667.0C152.3 669.0 152.0 671.7 152.0 674.0C152.0 676.3 151.1 679.2 151.6 681.0C152.1 682.8 153.4 684.4 155.0 685.0C156.6 685.6 159.5 685.7 161.0 684.4C162.5 683.1 163.0 680.1 164.0 677.0C165.0 673.9 166.0 668.5 167.0 666.0C168.0 663.5 168.3 663.6 170.0 662.0C171.7 660.4 174.7 657.4 177.0 656.4C179.3 655.4 182.0 655.4 184.0 656.0C186.0 656.6 188.2 658.2 189.0 660.0C189.8 661.8 189.7 664.8 189.0 667.0C188.3 669.2 186.8 671.4 185.0 673.0C183.2 674.6 179.4 675.2 178.0 676.4C176.6 677.6 176.2 678.7 176.4 680.0C176.6 681.3 177.1 683.1 179.0 684.4C180.9 685.7 185.0 686.4 188.0 687.6C191.0 688.8 194.6 689.9 197.0 691.6C199.4 693.3 202.2 695.7 202.4 697.6C202.6 699.5 200.2 701.7 198.0 703.0C195.8 704.3 191.5 705.1 189.0 705.6C186.5 706.1 184.4 706.6 183.0 706.0C181.6 705.4 180.7 703.7 180.4 702.0C180.1 700.3 181.8 697.6 181.4 696.0C181.0 694.4 179.6 692.9 178.0 692.4C176.4 691.9 173.9 692.1 172.0 693.0C170.1 693.9 167.5 695.8 166.4 698.0C165.3 700.2 165.0 703.5 165.6 706.0C166.2 708.5 167.9 711.2 170.0 713.0C172.1 714.8 175.0 716.3 178.0 717.0C181.0 717.7 185.2 717.6 188.0 717.0C190.8 716.4 192.7 714.4 195.0 713.6C197.3 712.8 200.0 712.5 202.0 712.4C204.0 712.3 205.3 712.6 207.0 713.0C208.7 713.4 210.7 715.0 212.0 715.0C213.3 715.0 214.7 714.5 215.0 713.0C215.3 711.5 213.6 707.9 213.6 706.0C213.6 704.1 213.9 702.1 215.0 701.6C216.1 701.1 218.3 701.8 220.0 703.0C221.7 704.2 223.3 707.0 225.0 709.0C226.7 711.0 228.7 714.3 230.0 715.0C231.3 715.7 232.3 714.2 233.0 713.0C233.7 711.8 233.4 709.1 234.4 708.0C235.4 706.9 237.1 706.1 239.0 706.4C240.9 706.7 243.7 709.1 246.0 710.0C248.3 710.9 250.7 712.3 253.0 712.0C255.3 711.7 257.5 709.8 260.0 708.0C262.5 706.2 265.3 702.8 268.0 701.0C270.7 699.2 273.7 697.2 276.0 697.0C278.3 696.8 280.5 697.9 282.0 699.6C283.5 701.3 283.5 705.2 285.0 707.0C286.5 708.8 288.5 710.0 291.0 710.4C293.5 710.8 297.2 709.8 300.0 709.6C302.8 709.4 305.7 708.4 308.0 709.0C310.3 709.6 312.9 711.3 314.0 713.0C315.1 714.7 315.1 717.2 314.4 719.0C313.7 720.8 312.1 722.6 310.0 724.0C307.9 725.4 304.2 725.9 302.0 727.6C299.8 729.3 298.3 731.4 297.0 734.0C295.7 736.6 295.3 740.2 294.0 743.0C292.7 745.8 291.2 748.8 289.0 751.0C286.8 753.2 283.7 755.1 281.0 756.0C278.3 756.9 275.5 757.1 273.0 756.6C270.5 756.1 267.6 754.6 266.0 753.0C264.4 751.4 263.6 749.0 263.6 747.0C263.6 745.0 264.8 742.4 266.0 741.0C267.2 739.6 269.7 738.1 271.0 738.4C272.3 738.7 272.7 741.7 274.0 743.0C275.3 744.3 277.3 746.4 279.0 746.4C280.7 746.4 282.7 744.9 284.0 743.0C285.3 741.1 286.5 737.7 287.0 735.0C287.5 732.3 287.7 729.2 287.0 727.0C286.3 724.8 284.8 722.8 283.0 721.6C281.2 720.4 278.3 719.8 276.0 720.0C273.7 720.2 271.5 721.4 269.0 723.0C266.5 724.6 263.5 728.2 261.0 729.6C258.5 731.0 256.0 731.8 254.0 731.4C252.0 731.0 250.2 728.9 249.0 727.0C247.8 725.1 248.0 721.6 247.0 720.0C246.0 718.4 244.4 717.6 243.0 717.4C241.6 717.2 239.2 717.9 238.4 719.0C237.6 720.1 237.4 722.0 238.0 724.0C238.6 726.0 240.5 728.8 242.0 731.0C243.5 733.2 246.0 735.3 247.0 737.0C248.0 738.7 248.5 739.7 248.0 741.0C247.5 742.3 244.7 744.3 244.0 745.0M231.0 741.0C230.7 740.2 229.5 738.5 229.0 736.0C228.5 733.5 228.8 728.7 228.0 726.0C227.2 723.3 226.0 721.4 224.0 720.0C222.0 718.6 218.8 717.6 216.0 717.4C213.2 717.2 209.5 717.9 207.0 719.0C204.5 720.1 202.0 722.2 201.0 724.0C200.0 725.8 200.0 728.6 201.0 730.0C202.0 731.4 204.7 732.3 207.0 732.6C209.3 732.9 212.8 731.8 215.0 732.0C217.2 732.2 218.9 732.7 220.0 734.0C221.1 735.3 222.3 738.2 221.6 740.0C220.9 741.8 218.3 743.9 216.0 745.0C213.7 746.1 210.0 745.2 208.0 746.4C206.0 747.6 205.7 750.9 204.0 752.0C202.3 753.1 199.7 753.7 198.0 753.0C196.3 752.3 194.8 750.2 194.0 748.0C193.2 745.8 194.0 741.8 193.0 740.0C192.0 738.2 189.8 737.0 188.0 737.0C186.2 737.0 183.3 738.3 182.0 740.0C180.7 741.7 180.2 744.0 180.0 747.0C179.8 750.0 181.7 755.7 181.0 758.0C180.3 760.3 177.7 761.2 176.0 761.0C174.3 760.8 172.3 759.5 171.0 757.0C169.7 754.5 169.2 749.3 168.0 746.0C166.8 742.7 165.5 739.5 164.0 737.0C162.5 734.5 161.0 732.3 159.0 731.0C157.0 729.7 154.2 728.8 152.0 729.0C149.8 729.2 147.3 730.7 146.0 732.0C144.7 733.3 143.7 735.2 144.0 737.0C144.3 738.8 145.8 741.2 148.0 743.0C150.2 744.8 155.5 746.3 157.0 748.0C158.5 749.7 158.2 751.5 157.0 753.0C155.8 754.5 152.8 755.8 150.0 757.0C147.2 758.2 142.6 759.0 140.0 760.0C137.4 761.0 135.8 761.8 134.3 762.8C132.8 763.8 131.6 764.9 130.8 766.0C130.1 767.1 129.7 768.3 129.8 769.5C129.9 770.7 130.6 772.0 131.6 773.0C132.6 774.0 133.9 774.8 136.0 775.6C138.1 776.4 141.5 776.7 144.0 777.6C146.5 778.5 149.6 779.8 151.0 781.0C152.4 782.2 153.1 783.3 152.6 784.6C152.1 785.9 150.2 788.0 147.8 789.0C145.4 790.0 141.3 790.1 138.0 790.8C134.7 791.5 130.3 791.6 128.0 793.0C125.7 794.4 124.6 796.8 124.4 799.0C124.2 801.2 125.4 804.2 127.0 806.0C128.6 807.8 131.7 808.7 134.0 810.0C136.3 811.3 139.2 812.7 141.0 814.0C142.8 815.3 143.6 816.3 145.0 818.0C146.4 819.7 148.0 822.0 149.5 824.0C151.0 826.0 152.4 828.3 154.0 830.0C155.6 831.7 157.0 833.2 159.0 834.0C161.0 834.8 163.2 834.8 166.0 835.0C168.8 835.2 172.7 835.0 176.0 835.0C179.3 835.0 183.3 835.5 186.0 834.8C188.7 834.1 190.2 833.0 192.0 831.0C193.8 829.0 196.2 826.3 197.0 823.0C197.8 819.7 197.8 815.0 197.0 811.0C196.2 807.0 193.7 802.3 192.0 799.0C190.3 795.7 187.7 793.7 187.0 791.0C186.3 788.3 187.0 785.2 188.0 783.0C189.0 780.8 191.0 779.0 193.0 778.0C195.0 777.0 197.7 776.7 200.0 777.0C202.3 777.3 205.0 778.3 207.0 780.0C209.0 781.7 210.5 784.2 212.0 787.0C213.5 789.8 214.5 794.0 216.0 797.0C217.5 800.0 219.0 803.4 221.0 805.0C223.0 806.6 225.9 806.9 228.0 806.6C230.1 806.3 232.7 804.8 233.6 803.0C234.5 801.2 234.1 798.3 233.6 796.0C233.1 793.7 230.5 791.1 230.4 789.0C230.3 786.9 231.6 784.6 233.0 783.4C234.4 782.2 237.0 781.7 239.0 782.0C241.0 782.3 243.8 783.5 245.0 785.0C246.2 786.5 246.7 788.7 246.4 791.0C246.1 793.3 243.6 796.3 243.0 799.0C242.4 801.7 242.2 804.8 243.0 807.0C243.8 809.2 246.2 811.3 248.0 812.0C249.8 812.7 252.5 812.4 254.0 811.4C255.5 810.4 256.5 808.2 257.0 806.0C257.5 803.8 256.3 800.5 257.0 798.0C257.7 795.5 259.0 792.6 261.0 791.0C263.0 789.4 266.3 788.6 269.0 788.6C271.7 788.6 275.2 789.4 277.0 791.0C278.8 792.6 279.6 795.5 279.6 798.0C279.6 800.5 278.6 803.5 277.0 806.0C275.4 808.5 271.6 810.8 270.0 813.0C268.4 815.2 267.2 817.0 267.4 819.0C267.6 821.0 269.2 824.0 271.0 825.0C272.8 826.0 275.8 825.3 278.0 825.0C280.2 824.7 282.1 823.2 284.0 823.4C285.9 823.6 288.5 824.6 289.6 826.0C290.7 827.4 291.0 830.2 290.4 832.0C289.8 833.8 287.9 835.5 286.0 836.6C284.1 837.7 281.0 837.5 279.0 838.6C277.0 839.7 275.8 842.3 274.0 843.4C272.2 844.5 269.7 845.6 268.0 845.4C266.3 845.2 264.9 843.9 264.0 842.0C263.1 840.1 263.2 836.2 262.4 834.0C261.6 831.8 260.4 829.9 259.0 829.0C257.6 828.1 255.5 827.9 254.0 828.6C252.5 829.3 250.7 830.6 250.0 833.0C249.3 835.4 250.0 840.3 250.0 843.0C250.0 845.7 250.7 847.3 250.0 849.0C249.3 850.7 247.5 852.7 246.0 853.0C244.5 853.3 242.3 852.5 241.0 851.0C239.7 849.5 239.0 846.8 238.0 844.0C237.0 841.2 236.3 837.0 235.0 834.0C233.7 831.0 232.0 828.0 230.0 826.0C228.0 824.0 225.3 822.4 223.0 822.0C220.7 821.6 217.8 822.2 216.0 823.4C214.2 824.6 212.7 826.9 212.4 829.0C212.1 831.1 212.7 834.0 214.0 836.0C215.3 838.0 218.1 839.4 220.0 841.0C221.9 842.6 224.7 844.2 225.6 845.4C226.5 846.6 225.4 847.6 225.3 848.0" fill="none" stroke="#f00" stroke-width="1" shape-rendering="crispEdges"/>
</g><g shape-rendering="crispEdges"><path d="M155.9 138.7L167.5 139.4M155.9 138.7L153.6 149.6M155.9 138.7L163.7 149.0M167.5 139.4L163.7 149.0M167.5 139.4L173.7 148.3M153.6 149.6L163.7 149.0M153.6 149.6L160.4 158.9M163.7 149.0L173.7 148.3M163.7 149.0L160.4 158.9M163.7 149.0L170.4 157.9M173.7 148.3L170.4 157.9M173.7 148.3L181.1 157.9M160.4 158.9L170.4 157.9M170.4 157.9L181.1 157.9" fill="none" stroke="#f00" stroke-width="1"/><circle cx="155.9" cy="138.7" r="5.45" fill="#f00"/><circle cx="155.9" cy="138.7" r="4.5" fill="#00f"/><path d="M153.9 136.9h3.8v3.6h-1.1v-2.5h-1.5v2.5h-1.2z" fill="#fff"/><circle cx="167.5" cy="139.4" r="5.45" fill="#f00"/><circle cx="167.5" cy="139.4" r="4.5" fill="#00f"/><path d="M165.5 137.6h2.4l1.3 1.1v1.3l-1.1 1.1h-2.6v-1.1h2v-1.2h-2z" fill="#fff"/><circle cx="153.6" cy="149.6" r="5.45" fill="#f00"/><circle cx="153.6" cy="149.6" r="4.5" fill="#00f"/><path d="M151.6 147.8h3.8v1.1h-2.7v1.3h2v1.1h-3.1z" fill="#fff"/><circle cx="163.7" cy="149.0" r="5.45" fill="#f00"/><circle cx="163.7" cy="149.0" r="4.5" fill="#00f"/><path d="M161.7 147.2h1.1l1 1l1-1h1.1v3.6h-1.1v-2l-1 1l-1-1v2h-1.1z" fill="#fff"/><circle cx="173.7" cy="148.3" r="5.45" fill="#f00"/><circle cx="173.7" cy="148.3" r="4.5" fill="#00f"/><path d="M171.7 146.5h3.8v3.6h-1.1v-2.5h-1.5v2.5h-1.2z" fill="#fff"/><circle cx="160.4" cy="158.9" r="5.45" fill="#f00"/><circle cx="160.4" cy="158.9" r="4.5" fill="#00f"/><path d="M158.4 157.1h2.4l1.3 1.1v1.3l-1.1 1.1h-2.6v-1.1h2v-1.2h-2z" fill="#fff"/><circle cx="170.4" cy="157.9" r="5.45" fill="#f00"/><circle cx="170.4" cy="157.9" r="4.5" fill="#00f"/><path d="M168.4 156.1h3.8v1.1h-2.7v1.3h2v1.1h-3.1z" fill="#fff"/><circle cx="181.1" cy="157.9" r="5.45" fill="#f00"/><circle cx="181.1" cy="157.9" r="4.5" fill="#00f"/><path d="M179.1 156.1h1.1l1 1l1-1h1.1v3.6h-1.1v-2l-1 1l-1-1v2h-1.1z" fill="#fff"/><path d="M167.0 235.4L161.0 246.6M167.0 235.4L175.0 245.4M167.0 235.4L169.0 256.0M161.0 246.6L175.0 245.4M161.0 246.6L169.0 256.0M175.0 245.4L169.0 256.0" fill="none" stroke="#f00" stroke-width="1"/><circle cx="167.0" cy="235.4" r="5.45" fill="#f00"/><circle cx="167.0" cy="235.4" r="4.5" fill="#00f"/><path d="M165.0 233.6h3.8v3.6h-1.1v-2.5h-1.5v2.5h-1.2z" fill="#fff"/><circle cx="161.0" cy="246.6" r="5.45" fill="#f00"/><circle cx="161.0" cy="246.6" r="4.5" fill="#00f"/><path d="M159.0 244.8h2.4l1.3 1.1v1.3l-1.1 1.1h-2.6v-1.1h2v-1.2h-2z" fill="#fff"/><circle cx="175.0" cy="245.4" r="5.45" fill="#f00"/><circle cx="175.0" cy="245.4" r="4.5" fill="#00f"/><path d="M173.0 243.6h3.8v1.1h-2.7v1.3h2v1.1h-3.1z" fill="#fff"/><circle cx="169.0" cy="256.0" r="5.45" fill="#f00"/><circle cx="169.0" cy="256.0" r="4.5" fill="#00f"/><path d="M167.0 254.2h1.1l1 1l1-1h1.1v3.6h-1.1v-2l-1 1l-1-1v2h-1.1z" fill="#fff"/><path d="M234.6 307.4L246.4 306.6M234.6 307.4L228.6 316.0M234.6 307.4L238.6 316.4M246.4 306.6L238.6 316.4M246.4 306.6L249.0 317.0M228.6 316.0L238.6 316.4M228.6 316.0L221.0 325.6M228.6 316.0L231.6 325.6M238.6 316.4L249.0 317.0M238.6 316.4L231.6 325.6M238.6 316.4L241.6 326.0M249.0 317.0L241.6 326.0M221.0 325.6L231.6 325.6M231.6 325.6L241.6 326.0" fill="none" stroke="#f00" stroke-width="1"/><circle cx="234.6" cy="307.4" r="5.45" fill="#f00"/><circle cx="234.6" cy="307.4" r="4.5" fill="#00f"/><path d="M232.6 305.6h3.8v3.6h-1.1v-2.5h-1.5v2.5h-1.2z" fill="#fff"/><circle cx="246.4" cy="306.6" r="5.45" fill="#f00"/><circle cx="246.4" cy="306.6" r="4.5" fill="#00f"/><path d="M244.4 304.8h2.4l1.3 1.1v1.3l-1.1 1.1h-2.6v-1.1h2v-1.2h-2z" fill="#fff"/><circle cx="228.6" cy="316.0" r="5.45" fill="#f00"/><circle cx="228.6" cy="316.0" r="4.5" fill="#00f"/><path d="M226.6 314.2h3.8v1.1h-2.7v1.3h2v1.1h-3.1z" fill="#fff"/><circle cx="238.6" cy="316.4" r="5.45" fill="#f00"/><circle cx="238.6" cy="316.4" r="4.5" fill="#00f"/><path d="M236.6 314.6h1.1l1 1l1-1h1.1v3.6h-1.1v-2l-1 1l-1-1v2h-1.1z" fill="#fff"/><circle cx="249.0" cy="317.0" r="5.45" fill="#f00"/><circle cx="249.0" cy="317.0" r="4.5" fill="#00f"/><path d="M247.0 315.2h3.8v3.6h-1.1v-2.5h-1.5v2.5h-1.2z" fill="#fff"/><circle cx="221.0" cy="325.6" r="5.45" fill="#f00"/><circle cx="221.0" cy="325.6" r="4.5" fill="#00f"/><path d="M219.0 323.8h2.4l1.3 1.1v1.3l-1.1 1.1h-2.6v-1.1h2v-1.2h-2z" fill="#fff"/><circle cx="231.6" cy="325.6" r="5.45" fill="#f00"/><circle cx="231.6" cy="325.6" r="4.5" fill="#00f"/><path d="M229.6 323.8h3.8v1.1h-2.7v1.3h2v1.1h-3.1z" fill="#fff"/><circle cx="241.6" cy="326.0" r="5.45" fill="#f00"/><circle cx="241.6" cy="326.0" r="4.5" fill="#00f"/><path d="M239.6 324.2h1.1l1 1l1-1h1.1v3.6h-1.1v-2l-1 1l-1-1v2h-1.1z" fill="#fff"/><path d="M235.7 402.6L227.0 413.5M235.7 402.6L241.0 414.4M235.7 402.6L233.4 423.6M227.0 413.5L241.0 414.4M227.0 413.5L233.4 423.6M241.0 414.4L233.4 423.6" fill="none" stroke="#f00" stroke-width="1"/><circle cx="235.7" cy="402.6" r="5.45" fill="#f00"/><circle cx="235.7" cy="402.6" r="4.5" fill="#00f"/><path d="M233.7 400.8h3.8v3.6h-1.1v-2.5h-1.5v2.5h-1.2z" fill="#fff"/><circle cx="227.0" cy="413.5" r="5.45" fill="#f00"/><circle cx="227.0" cy="413.5" r="4.5" fill="#00f"/><path d="M225.0 411.7h2.4l1.3 1.1v1.3l-1.1 1.1h-2.6v-1.1h2v-1.2h-2z" fill="#fff"/><circle cx="241.0" cy="414.4" r="5.45" fill="#f00"/><circle cx="241.0" cy="414.4" r="4.5" fill="#00f"/><path d="M239.0 412.6h3.8v1.1h-2.7v1.3h2v1.1h-3.1z" fill="#fff"/><circle cx="233.4" cy="423.6" r="5.45" fill="#f00"/><circle cx="233.4" cy="423.6" r="4.5" fill="#00f"/><path d="M231.4 421.8h1.1l1 1l1-1h1.1v3.6h-1.1v-2l-1 1l-1-1v2h-1.1z" fill="#fff"/><path d="M155.9 474.7L167.5 475.4M155.9 474.7L153.6 485.6M155.9 474.7L163.7 485.0M167.5 475.4L163.7 485.0M167.5 475.4L173.7 484.3M153.6 485.6L163.7 485.0M153.6 485.6L160.4 494.9M163.7 485.0L173.7 484.3M163.7 485.0L160.4 494.9M163.7 485.0L170.4 493.9M173.7 484.3L170.4 493.9M173.7 484.3L181.1 493.9M160.4 494.9L170.4 493.9M170.4 493.9L181.1 493.9" fill="none" stroke="#f00" stroke-width="1"/><circle cx="155.9" cy="474.7" r="5.45" fill="#f00"/><circle cx="155.9" cy="474.7" r="4.5" fill="#00f"/><path d="M153.9 472.9h3.8v3.6h-1.1v-2.5h-1.5v2.5h-1.2z" fill="#fff"/><circle cx="167.5" cy="475.4" r="5.45" fill="#f00"/><circle cx="167.5" cy="475.4" r="4.5" fill="#00f"/><path d="M165.5 473.6h2.4l1.3 1.1v1.3l-1.1 1.1h-2.6v-1.1h2v-1.2h-2z" fill="#fff"/><circle cx="153.6" cy="485.6" r="5.45" fill="#f00"/><circle cx="153.6" cy="485.6" r="4.5" fill="#00f"/><path d="M151.6 483.8h3.8v1.1h-2.7v1.3h2v1.1h-3.1z" fill="#fff"/><circle cx="163.7" cy="485.0" r="5.45" fill="#f00"/><circle cx="163.7" cy="485.0" r="4.5" fill="#00f"/><path d="M161.7 483.2h1.1l1 1l1-1h1.1v3.6h-1.1v-2l-1 1l-1-1v2h-1.1z" fill="#fff"/><circle cx="173.7" cy="484.3" r="5.45" fill="#f00"/><circle cx="173.7" cy="484.3" r="4.5" fill="#00f"/><path d="M171.7 482.5h3.8v3.6h-1.1v-2.5h-1.5v2.5h-1.2z" fill="#fff"/><circle cx="160.4" cy="494.9" r="5.45" fill="#f00"/><circle cx="160.4" cy="494.9" r="4.5" fill="#00f"/><path d="M158.4 493.1h2.4l1.3 1.1v1.3l-1.1 1.1h-2.6v-1.1h2v-1.2h-2z" fill="#fff"/><circle cx="170.4" cy="493.9" r="5.45" fill="#f00"/><circle cx="170.4" cy="493.9" r="4.5" fill="#00f"/><path d="M168.4 492.1h3.8v1.1h-2.7v1.3h2v1.1h-3.1z" fill="#fff"/><circle cx="181.1" cy="493.9" r="5.45" fill="#f00"/><circle cx="181.1" cy="493.9" r="4.5" fill="#00f"/><path d="M179.1 492.1h1.1l1 1l1-1h1.1v3.6h-1.1v-2l-1 1l-1-1v2h-1.1z" fill="#fff"/><path d="M167.0 571.4L161.0 582.6M167.0 571.4L175.0 581.4M167.0 571.4L169.0 592.0M161.0 582.6L175.0 581.4M161.0 582.6L169.0 592.0M175.0 581.4L169.0 592.0" fill="none" stroke="#f00" stroke-width="1"/><circle cx="167.0" cy="571.4" r="5.45" fill="#f00"/><circle cx="167.0" cy="571.4" r="4.5" fill="#00f"/><path d="M165.0 569.6h3.8v3.6h-1.1v-2.5h-1.5v2.5h-1.2z" fill="#fff"/><circle cx="161.0" cy="582.6" r="5.45" fill="#f00"/><circle cx="161.0" cy="582.6" r="4.5" fill="#00f"/><path d="M159.0 580.8h2.4l1.3 1.1v1.3l-1.1 1.1h-2.6v-1.1h2v-1.2h-2z" fill="#fff"/><circle cx="175.0" cy="581.4" r="5.45" fill="#f00"/><circle cx="175.0" cy="581.4" r="4.5" fill="#00f"/><path d="M173.0 579.6h3.8v1.1h-2.7v1.3h2v1.1h-3.1z" fill="#fff"/><circle cx="169.0" cy="592.0" r="5.45" fill="#f00"/><circle cx="169.0" cy="592.0" r="4.5" fill="#00f"/><path d="M167.0 590.2h1.1l1 1l1-1h1.1v3.6h-1.1v-2l-1 1l-1-1v2h-1.1z" fill="#fff"/><path d="M234.6 643.4L246.4 642.6M234.6 643.4L228.6 652.0M234.6 643.4L238.6 652.4M246.4 642.6L238.6 652.4M246.4 642.6L249.0 653.0M228.6 652.0L238.6 652.4M228.6 652.0L221.0 661.6M228.6 652.0L231.6 661.6M238.6 652.4L249.0 653.0M238.6 652.4L231.6 661.6M238.6 652.4L241.6 662.0M249.0 653.0L241.6 662.0M221.0 661.6L231.6 661.6M231.6 661.6L241.6 662.0" fill="none" stroke="#f00" stroke-width="1"/><circle cx="234.6" cy="643.4" r="5.45" fill="#f00"/><circle cx="234.6" cy="643.4" r="4.5" fill="#00f"/><path d="M232.6 641.6h3.8v3.6h-1.1v-2.5h-1.5v2.5h-1.2z" fill="#fff"/><circle cx="246.4" cy="642.6" r="5.45" fill="#f00"/><circle cx="246.4" cy="642.6" r="4.5" fill="#00f"/><path d="M244.4 640.8h2.4l1.3 1.1v1.3l-1.1 1.1h-2.6v-1.1h2v-1.2h-2z" fill="#fff"/><circle cx="228.6" cy="652.0" r="5.45" fill="#f00"/><circle cx="228.6" cy="652.0" r="4.5" fill="#00f"/><path d="M226.6 650.2h3.8v1.1h-2.7v1.3h2v1.1h-3.1z" fill="#fff"/><circle cx="238.6" cy="652.4" r="5.45" fill="#f00"/><circle cx="238.6" cy="652.4" r="4.5" fill="#00f"/><path d="M236.6 650.6h1.1l1 1l1-1h1.1v3.6h-1.1v-2l-1 1l-1-1v2h-1.1z" fill="#fff"/><circle cx="249.0" cy="653.0" r="5.45" fill="#f00"/><circle cx="249.0" cy="653.0" r="4.5" fill="#00f"/><path d="M247.0 651.2h3.8v3.6h-1.1v-2.5h-1.5v2.5h-1.2z" fill="#fff"/><circle cx="221.0" cy="661.6" r="5.45" fill="#f00"/><circle cx="221.0" cy="661.6" r="4.5" fill="#00f"/><path d="M219.0 659.8h2.4l1.3 1.1v1.3l-1.1 1.1h-2.6v-1.1h2v-1.2h-2z" fill="#fff"/><circle cx="231.6" cy="661.6" r="5.45" fill="#f00"/><circle cx="231.6" cy="661.6" r="4.5" fill="#00f"/><path d="M229.6 659.8h3.8v1.1h-2.7v1.3h2v1.1h-3.1z" fill="#fff"/><circle cx="241.6" cy="662.0" r="5.45" fill="#f00"/><circle cx="241.6" cy="662.0" r="4.5" fill="#00f"/><path d="M239.6 660.2h1.1l1 1l1-1h1.1v3.6h-1.1v-2l-1 1l-1-1v2h-1.1z" fill="#fff"/><path d="M235.7 738.6L227.0 749.5M235.7 738.6L241.0 750.4M235.7 738.6L233.4 759.6M227.0 749.5L241.0 750.4M227.0 749.5L233.4 759.6M241.0 750.4L233.4 759.6" fill="none" stroke="#f00" stroke-width="1"/><circle cx="235.7" cy="738.6" r="5.45" fill="#f00"/><circle cx="235.7" cy="738.6" r="4.5" fill="#00f"/><path d="M233.7 736.8h3.8v3.6h-1.1v-2.5h-1.5v2.5h-1.2z" fill="#fff"/><circle cx="227.0" cy="749.5" r="5.45" fill="#f00"/><circle cx="227.0" cy="749.5" r="4.5" fill="#00f"/><path d="M225.0 747.7h2.4l1.3 1.1v1.3l-1.1 1.1h-2.6v-1.1h2v-1.2h-2z" fill="#fff"/><circle cx="241.0" cy="750.4" r="5.45" fill="#f00"/><circle cx="241.0" cy="750.4" r="4.5" fill="#00f"/><path d="M239.0 748.6h3.8v1.1h-2.7v1.3h2v1.1h-3.1z" fill="#fff"/><circle cx="233.4" cy="759.6" r="5.45" fill="#f00"/><circle cx="233.4" cy="759.6" r="4.5" fill="#00f"/><path d="M231.4 757.8h1.1l1 1l1-1h1.1v3.6h-1.1v-2l-1 1l-1-1v2h-1.1z" fill="#fff"/><path d="M155.9 809.7L167.5 810.4M155.9 809.7L153.6 820.6M155.9 809.7L163.7 820.0M167.5 810.4L163.7 820.0M167.5 810.4L173.7 819.3M153.6 820.6L163.7 820.0M153.6 820.6L160.4 829.9M163.7 820.0L173.7 819.3M163.7 820.0L160.4 829.9M163.7 820.0L170.4 828.9M173.7 819.3L170.4 828.9M173.7 819.3L181.1 828.9M160.4 829.9L170.4 828.9M170.4 828.9L181.1 828.9" fill="none" stroke="#f00" stroke-width="1"/><circle cx="155.9" cy="809.7" r="5.45" fill="#f00"/><circle cx="155.9" cy="809.7" r="4.5" fill="#00f"/><path d="M153.9 807.9h3.8v3.6h-1.1v-2.5h-1.5v2.5h-1.2z" fill="#fff"/><circle cx="167.5" cy="810.4" r="5.45" fill="#f00"/><circle cx="167.5" cy="810.4" r="4.5" fill="#00f"/><path d="M165.5 808.6h2.4l1.3 1.1v1.3l-1.1 1.1h-2.6v-1.1h2v-1.2h-2z" fill="#fff"/><circle cx="153.6" cy="820.6" r="5.45" fill="#f00"/><circle cx="153.6" cy="820.6" r="4.5" fill="#00f"/><path d="M151.6 818.8h3.8v1.1h-2.7v1.3h2v1.1h-3.1z" fill="#fff"/><circle cx="163.7" cy="820.0" r="5.45" fill="#f00"/><circle cx="163.7" cy="820.0" r="4.5" fill="#00f"/><path d="M161.7 818.2h1.1l1 1l1-1h1.1v3.6h-1.1v-2l-1 1l-1-1v2h-1.1z" fill="#fff"/><circle cx="173.7" cy="819.3" r="5.45" fill="#f00"/><circle cx="173.7" cy="819.3" r="4.5" fill="#00f"/><path d="M171.7 817.5h3.8v3.6h-1.1v-2.5h-1.5v2.5h-1.2z" fill="#fff"/><circle cx="160.4" cy="829.9" r="5.45" fill="#f00"/><circle cx="160.4" cy="829.9" r="4.5" fill="#00f"/><path d="M158.4 828.1h2.4l1.3 1.1v1.3l-1.1 1.1h-2.6v-1.1h2v-1.2h-2z" fill="#fff"/><circle cx="170.4" cy="828.9" r="5.45" fill="#f00"/><circle cx="170.4" cy="828.9" r="4.5" fill="#00f"/><path d="M168.4 827.1h3.8v1.1h-2.7v1.3h2v1.1h-3.1z" fill="#fff"/><circle cx="181.1" cy="828.9" r="5.45" fill="#f00"/><circle cx="181.1" cy="828.9" r="4.5" fill="#00f"/><path d="M179.1 827.1h1.1l1 1l1-1h1.1v3.6h-1.1v-2l-1 1l-1-1v2h-1.1z" fill="#fff"/></g>
<g shape-rendering="crispEdges"><rect x="5" y="92" width="394" height="1" fill="#f00"/><rect x="135" y="89" width="1" height="771" fill="#f00"/><path d="M389 89h1v1h3v1h-4z" fill="#f00"/><rect x="178" y="89" width="1" height="771" fill="#0f0"/><rect x="3" y="828" width="398" height="1" fill="#0f0"/><path d="M10 825h1v1h1v1h-3v-1h1z" fill="#0f0"/><rect x="4" y="4" width="615" height="1" fill="#000"/><rect x="4" y="860" width="615" height="1" fill="#000"/><rect x="4" y="4" width="1" height="857" fill="#000"/><rect x="618" y="4" width="1" height="857" fill="#000"/><rect x="4" y="88" width="615" height="1" fill="#000"/><rect x="536" y="4" width="1" height="85" fill="#000"/><rect x="401" y="88" width="1" height="773" fill="#000"/><rect x="401" y="194" width="218" height="1" fill="#000"/></g>
<path d="M9 37h1v20h-1zM11 37h1v20h-1zM13 37h4v20h-4zM19 37h3v20h-3zM24 37h2v20h-2zM27 37h1v20h-1zM29 37h3v20h-3zM34 37h3v20h-3zM40 37h3v20h-3zM45 37h3v20h-3zM50 37h2v20h-2zM55 37h2v20h-2zM58 37h1v20h-1zM60 37h2v20h-2zM64 37h4v20h-4zM70 37h4v20h-4zM75 37h2v20h-2zM78 37h1v20h-1zM81 37h3v20h-3zM86 37h2v20h-2zM89 37h1v20h-1zM91 37h2v20h-2zM96 37h3v20h-3zM101 37h3v20h-3zM105 37h2v20h-2zM108 37h1v20h-1zM112 37h4v20h-4zM117 37h2v20h-2zM122 37h3v20h-3zM128 37h1v20h-1zM130 37h1v20h-1zM132 37h1v20h-1zM134 37h1v20h-1zM136 37h4v20h-4z" fill="#000" shape-rendering="crispEdges"/>
<text x="7.5" y="18.3" font-family="'Liberation Serif','Noto Serif CJK SC',serif" font-size="15" font-weight="bold" letter-spacing="1" fill="#000">生产作业图</text>
<text class="cj" x="40.5" y="33.2" letter-spacing="2.2">汇京</text>
<text class="cj" x="66.5" y="33.2" letter-spacing="1">装饰工作室</text>
<text class="cj" x="6" y="71.2" letter-spacing="1">花版</text>
<text class="cj" x="6" y="84.3" letter-spacing="1">色位</text>
<text class="cj" x="538.3" y="14.2" letter-spacing="1">针数</text>
<text class="cj" x="538.3" y="27.4" letter-spacing="1">颜色</text>
<text class="cj" x="538.3" y="40.6" letter-spacing="1">高度</text>
<text class="cj" x="538.3" y="53.8" letter-spacing="1">宽度</text>
<text class="cj" x="538.3" y="67" letter-spacing="1">比例</text>
<text class="cj" x="403" y="98" letter-spacing="0.6">停止顺序</text>
<text class="cjb" x="469.5" y="110.6" letter-spacing="0.8">代码</text>
<text class="cjb" x="496.7" y="110.6" letter-spacing="0.8">描述</text>
<text class="cjb" x="556.8" y="110.6" letter-spacing="0.8">元素</text>
<text class="cjb" x="583.2" y="110.6" letter-spacing="0.8">金片链</text>
<path d="M470.5 813V680.5H585" fill="none" stroke="#e2e2e2" stroke-width="1"/><path d="M480.60 686.00h17.78v2.54h-17.78zM506.01 686.00h7.62v2.54h-7.62zM518.71 686.00h2.54v2.54h-2.54zM531.41 686.00h5.08v2.54h-5.08zM539.03 686.00h15.24v2.54h-15.24zM556.82 686.00h17.78v2.54h-17.78zM480.60 688.54h2.54v2.54h-2.54zM495.84 688.54h2.54v2.54h-2.54zM506.01 688.54h2.54v2.54h-2.54zM513.63 688.54h5.08v2.54h-5.08zM526.33 688.54h5.08v2.54h-5.08zM536.49 688.54h7.62v2.54h-7.62zM549.19 688.54h5.08v2.54h-5.08zM556.82 688.54h2.54v2.54h-2.54zM572.06 688.54h2.54v2.54h-2.54zM480.60 691.08h2.54v2.54h-2.54zM485.68 691.08h7.62v2.54h-7.62zM495.84 691.08h2.54v2.54h-2.54zM500.92 691.08h2.54v2.54h-2.54zM506.01 691.08h5.08v2.54h-5.08zM516.17 691.08h2.54v2.54h-2.54zM521.25 691.08h5.08v2.54h-5.08zM528.87 691.08h15.24v2.54h-15.24zM546.65 691.08h5.08v2.54h-5.08zM556.82 691.08h2.54v2.54h-2.54zM561.90 691.08h7.62v2.54h-7.62zM572.06 691.08h2.54v2.54h-2.54zM480.60 693.62h2.54v2.54h-2.54zM485.68 693.62h7.62v2.54h-7.62zM495.84 693.62h2.54v2.54h-2.54zM500.92 693.62h5.08v2.54h-5.08zM508.55 693.62h2.54v2.54h-2.54zM513.63 693.62h2.54v2.54h-2.54zM521.25 693.62h5.08v2.54h-5.08zM528.87 693.62h7.62v2.54h-7.62zM541.57 693.62h2.54v2.54h-2.54zM546.65 693.62h7.62v2.54h-7.62zM556.82 693.62h2.54v2.54h-2.54zM561.90 693.62h7.62v2.54h-7.62zM572.06 693.62h2.54v2.54h-2.54zM480.60 696.16h2.54v2.54h-2.54zM485.68 696.16h7.62v2.54h-7.62zM495.84 696.16h2.54v2.54h-2.54zM506.01 696.16h2.54v2.54h-2.54zM516.17 696.16h2.54v2.54h-2.54zM521.25 696.16h5.08v2.54h-5.08zM541.57 696.16h2.54v2.54h-2.54zM551.74 696.16h2.54v2.54h-2.54zM556.82 696.16h2.54v2.54h-2.54zM561.90 696.16h7.62v2.54h-7.62zM572.06 696.16h2.54v2.54h-2.54zM480.60 698.70h2.54v2.54h-2.54zM495.84 698.70h2.54v2.54h-2.54zM503.46 698.70h2.54v2.54h-2.54zM508.55 698.70h2.54v2.54h-2.54zM516.17 698.70h2.54v2.54h-2.54zM528.87 698.70h7.62v2.54h-7.62zM539.03 698.70h5.08v2.54h-5.08zM556.82 698.70h2.54v2.54h-2.54zM572.06 698.70h2.54v2.54h-2.54zM480.60 701.24h17.78v2.54h-17.78zM500.92 701.24h2.54v2.54h-2.54zM506.01 701.24h2.54v2.54h-2.54zM511.09 701.24h2.54v2.54h-2.54zM516.17 701.24h2.54v2.54h-2.54zM521.25 701.24h2.54v2.54h-2.54zM526.33 701.24h2.54v2.54h-2.54zM531.41 701.24h2.54v2.54h-2.54zM536.49 701.24h2.54v2.54h-2.54zM541.57 701.24h2.54v2.54h-2.54zM546.65 701.24h2.54v2.54h-2.54zM551.74 701.24h2.54v2.54h-2.54zM556.82 701.24h17.78v2.54h-17.78zM500.92 703.78h7.62v2.54h-7.62zM511.09 703.78h7.62v2.54h-7.62zM528.87 703.78h2.54v2.54h-2.54zM536.49 703.78h2.54v2.54h-2.54zM544.11 703.78h5.08v2.54h-5.08zM490.76 706.32h2.54v2.54h-2.54zM495.84 706.32h2.54v2.54h-2.54zM506.01 706.32h2.54v2.54h-2.54zM513.63 706.32h7.62v2.54h-7.62zM528.87 706.32h2.54v2.54h-2.54zM533.95 706.32h2.54v2.54h-2.54zM539.03 706.32h5.08v2.54h-5.08zM546.65 706.32h7.62v2.54h-7.62zM569.52 706.32h5.08v2.54h-5.08zM483.14 708.86h2.54v2.54h-2.54zM498.38 708.86h5.08v2.54h-5.08zM508.55 708.86h2.54v2.54h-2.54zM521.25 708.86h2.54v2.54h-2.54zM531.41 708.86h2.54v2.54h-2.54zM539.03 708.86h2.54v2.54h-2.54zM551.74 708.86h2.54v2.54h-2.54zM564.44 708.86h10.16v2.54h-10.16zM488.22 711.41h5.08v2.54h-5.08zM495.84 711.41h5.08v2.54h-5.08zM503.46 711.41h7.62v2.54h-7.62zM513.63 711.41h5.08v2.54h-5.08zM521.25 711.41h2.54v2.54h-2.54zM526.33 711.41h10.16v2.54h-10.16zM539.03 711.41h7.62v2.54h-7.62zM549.19 711.41h5.08v2.54h-5.08zM569.52 711.41h2.54v2.54h-2.54zM485.68 713.95h5.08v2.54h-5.08zM493.30 713.95h2.54v2.54h-2.54zM500.92 713.95h5.08v2.54h-5.08zM508.55 713.95h5.08v2.54h-5.08zM516.17 713.95h2.54v2.54h-2.54zM521.25 713.95h5.08v2.54h-5.08zM528.87 713.95h5.08v2.54h-5.08zM541.57 713.95h5.08v2.54h-5.08zM554.28 713.95h10.16v2.54h-10.16zM572.06 713.95h2.54v2.54h-2.54zM480.60 716.49h5.08v2.54h-5.08zM493.30 716.49h5.08v2.54h-5.08zM500.92 716.49h2.54v2.54h-2.54zM506.01 716.49h10.16v2.54h-10.16zM518.71 716.49h2.54v2.54h-2.54zM526.33 716.49h5.08v2.54h-5.08zM536.49 716.49h10.16v2.54h-10.16zM559.36 716.49h7.62v2.54h-7.62zM572.06 716.49h2.54v2.54h-2.54zM506.01 719.03h2.54v2.54h-2.54zM511.09 719.03h2.54v2.54h-2.54zM546.65 719.03h2.54v2.54h-2.54zM561.90 719.03h2.54v2.54h-2.54zM569.52 719.03h5.08v2.54h-5.08zM480.60 721.57h12.70v2.54h-12.70zM495.84 721.57h2.54v2.54h-2.54zM551.74 721.57h5.08v2.54h-5.08zM561.90 721.57h2.54v2.54h-2.54zM566.98 721.57h7.62v2.54h-7.62zM480.60 724.11h5.08v2.54h-5.08zM488.22 724.11h2.54v2.54h-2.54zM503.46 724.11h2.54v2.54h-2.54zM544.11 724.11h5.08v2.54h-5.08zM551.74 724.11h5.08v2.54h-5.08zM561.90 724.11h2.54v2.54h-2.54zM566.98 724.11h2.54v2.54h-2.54zM488.22 726.65h5.08v2.54h-5.08zM495.84 726.65h2.54v2.54h-2.54zM500.92 726.65h5.08v2.54h-5.08zM544.11 726.65h10.16v2.54h-10.16zM561.90 726.65h10.16v2.54h-10.16zM483.14 729.19h5.08v2.54h-5.08zM498.38 729.19h5.08v2.54h-5.08zM506.01 729.19h2.54v2.54h-2.54zM541.57 729.19h2.54v2.54h-2.54zM546.65 729.19h2.54v2.54h-2.54zM551.74 729.19h5.08v2.54h-5.08zM559.36 729.19h5.08v2.54h-5.08zM569.52 729.19h5.08v2.54h-5.08zM480.60 731.73h2.54v2.54h-2.54zM485.68 731.73h5.08v2.54h-5.08zM495.84 731.73h2.54v2.54h-2.54zM508.55 731.73h5.08v2.54h-5.08zM551.74 731.73h2.54v2.54h-2.54zM559.36 731.73h7.62v2.54h-7.62zM485.68 734.27h5.08v2.54h-5.08zM493.30 734.27h2.54v2.54h-2.54zM503.46 734.27h2.54v2.54h-2.54zM508.55 734.27h2.54v2.54h-2.54zM551.74 734.27h2.54v2.54h-2.54zM488.22 736.81h10.16v2.54h-10.16zM500.92 736.81h12.70v2.54h-12.70zM541.57 736.81h12.70v2.54h-12.70zM559.36 736.81h10.16v2.54h-10.16zM572.06 736.81h2.54v2.54h-2.54zM488.22 739.35h2.54v2.54h-2.54zM506.01 739.35h5.08v2.54h-5.08zM549.19 739.35h10.16v2.54h-10.16zM569.52 739.35h5.08v2.54h-5.08zM480.60 741.89h2.54v2.54h-2.54zM485.68 741.89h2.54v2.54h-2.54zM495.84 741.89h5.08v2.54h-5.08zM503.46 741.89h7.62v2.54h-7.62zM541.57 741.89h2.54v2.54h-2.54zM546.65 741.89h12.70v2.54h-12.70zM561.90 741.89h2.54v2.54h-2.54zM566.98 741.89h7.62v2.54h-7.62zM488.22 744.43h5.08v2.54h-5.08zM498.38 744.43h7.62v2.54h-7.62zM511.09 744.43h2.54v2.54h-2.54zM541.57 744.43h2.54v2.54h-2.54zM551.74 744.43h2.54v2.54h-2.54zM556.82 744.43h7.62v2.54h-7.62zM569.52 744.43h5.08v2.54h-5.08zM485.68 746.97h15.24v2.54h-15.24zM503.46 746.97h5.08v2.54h-5.08zM516.17 746.97h12.70v2.54h-12.70zM541.57 746.97h7.62v2.54h-7.62zM551.74 746.97h7.62v2.54h-7.62zM566.98 746.97h2.54v2.54h-2.54zM483.14 749.51h7.62v2.54h-7.62zM503.46 749.51h2.54v2.54h-2.54zM511.09 749.51h10.16v2.54h-10.16zM523.79 749.51h2.54v2.54h-2.54zM528.87 749.51h7.62v2.54h-7.62zM539.03 749.51h2.54v2.54h-2.54zM551.74 749.51h2.54v2.54h-2.54zM564.44 749.51h2.54v2.54h-2.54zM569.52 749.51h2.54v2.54h-2.54zM480.60 752.05h5.08v2.54h-5.08zM488.22 752.05h2.54v2.54h-2.54zM493.30 752.05h7.62v2.54h-7.62zM508.55 752.05h2.54v2.54h-2.54zM516.17 752.05h5.08v2.54h-5.08zM523.79 752.05h12.70v2.54h-12.70zM539.03 752.05h7.62v2.54h-7.62zM549.19 752.05h2.54v2.54h-2.54zM554.28 752.05h2.54v2.54h-2.54zM559.36 752.05h2.54v2.54h-2.54zM569.52 752.05h2.54v2.54h-2.54zM498.38 754.59h5.08v2.54h-5.08zM518.71 754.59h5.08v2.54h-5.08zM536.49 754.59h20.32v2.54h-20.32zM561.90 754.59h12.70v2.54h-12.70zM495.84 757.14h2.54v2.54h-2.54zM506.01 757.14h2.54v2.54h-2.54zM511.09 757.14h2.54v2.54h-2.54zM518.71 757.14h12.70v2.54h-12.70zM536.49 757.14h12.70v2.54h-12.70zM551.74 757.14h17.78v2.54h-17.78zM503.46 759.68h2.54v2.54h-2.54zM508.55 759.68h5.08v2.54h-5.08zM516.17 759.68h2.54v2.54h-2.54zM526.33 759.68h2.54v2.54h-2.54zM536.49 759.68h7.62v2.54h-7.62zM546.65 759.68h7.62v2.54h-7.62zM561.90 759.68h2.54v2.54h-2.54zM569.52 759.68h5.08v2.54h-5.08zM480.60 762.22h17.78v2.54h-17.78zM503.46 762.22h2.54v2.54h-2.54zM508.55 762.22h5.08v2.54h-5.08zM516.17 762.22h5.08v2.54h-5.08zM523.79 762.22h5.08v2.54h-5.08zM531.41 762.22h2.54v2.54h-2.54zM539.03 762.22h5.08v2.54h-5.08zM546.65 762.22h2.54v2.54h-2.54zM551.74 762.22h2.54v2.54h-2.54zM556.82 762.22h2.54v2.54h-2.54zM561.90 762.22h2.54v2.54h-2.54zM480.60 764.76h2.54v2.54h-2.54zM495.84 764.76h2.54v2.54h-2.54zM500.92 764.76h5.08v2.54h-5.08zM513.63 764.76h7.62v2.54h-7.62zM526.33 764.76h2.54v2.54h-2.54zM539.03 764.76h15.24v2.54h-15.24zM561.90 764.76h2.54v2.54h-2.54zM572.06 764.76h2.54v2.54h-2.54zM480.60 767.30h2.54v2.54h-2.54zM485.68 767.30h7.62v2.54h-7.62zM495.84 767.30h2.54v2.54h-2.54zM500.92 767.30h2.54v2.54h-2.54zM506.01 767.30h7.62v2.54h-7.62zM521.25 767.30h10.16v2.54h-10.16zM533.95 767.30h5.08v2.54h-5.08zM544.11 767.30h5.08v2.54h-5.08zM551.74 767.30h22.86v2.54h-22.86zM480.60 769.84h2.54v2.54h-2.54zM485.68 769.84h7.62v2.54h-7.62zM495.84 769.84h2.54v2.54h-2.54zM503.46 769.84h5.08v2.54h-5.08zM513.63 769.84h5.08v2.54h-5.08zM521.25 769.84h5.08v2.54h-5.08zM536.49 769.84h5.08v2.54h-5.08zM544.11 769.84h2.54v2.54h-2.54zM549.19 769.84h7.62v2.54h-7.62zM559.36 769.84h15.24v2.54h-15.24zM480.60 772.38h2.54v2.54h-2.54zM485.68 772.38h7.62v2.54h-7.62zM495.84 772.38h2.54v2.54h-2.54zM500.92 772.38h12.70v2.54h-12.70zM518.71 772.38h7.62v2.54h-7.62zM528.87 772.38h2.54v2.54h-2.54zM539.03 772.38h10.16v2.54h-10.16zM551.74 772.38h2.54v2.54h-2.54zM559.36 772.38h15.24v2.54h-15.24zM480.60 774.92h2.54v2.54h-2.54zM495.84 774.92h2.54v2.54h-2.54zM503.46 774.92h7.62v2.54h-7.62zM516.17 774.92h2.54v2.54h-2.54zM521.25 774.92h15.24v2.54h-15.24zM546.65 774.92h2.54v2.54h-2.54zM554.28 774.92h2.54v2.54h-2.54zM566.98 774.92h2.54v2.54h-2.54zM572.06 774.92h2.54v2.54h-2.54zM480.60 777.46h17.78v2.54h-17.78zM500.92 777.46h7.62v2.54h-7.62zM511.09 777.46h15.24v2.54h-15.24zM533.95 777.46h17.78v2.54h-17.78zM554.28 777.46h12.70v2.54h-12.70zM572.06 777.46h2.54v2.54h-2.54z" fill="#6e6e6e"/><rect x="513.5" y="719" width="29" height="28.5" rx="3" fill="#fff"/><rect x="515.4" y="721" width="25.2" height="24.5" rx="2.5" fill="#f47e7e"/><rect x="528.3" y="722.3" width="11" height="21.9" rx="1" fill="#fde9e9"/>
<text x="517.5" y="731.7" font-family="'Liberation Sans','Noto Sans CJK SC',sans-serif" font-size="10" font-weight="bold" fill="#fff">以</text>
<text x="517.5" y="743.3" font-family="'Liberation Sans','Noto Sans CJK SC',sans-serif" font-size="10" font-weight="bold" fill="#fff">图</text>
<text x="528.8" y="731.7" font-family="'Liberation Sans','Noto Sans CJK SC',sans-serif" font-size="10" font-weight="bold" fill="#f47e7e">搜</text>
<text x="528.8" y="743.3" font-family="'Liberation Sans','Noto Sans CJK SC',sans-serif" font-size="10" font-weight="bold" fill="#f47e7e">版</text>
<path d="M499 791 Q520 785.8 545 787 Q568 789 584 800.5 Q566 792.6 545 790.4 Q520 788.9 499.5 793z" fill="#f5a3ad"/><circle cx="500" cy="791.6" r="1.3" fill="#f8bcc3"/>
</svg>
<div class="t " style="left:6px;top:25.00px;">Wilcom(</div>
<div class="t " style="left:62.3px;top:25.00px;">)</div>
<div class="t " style="left:28px;top:63.00px;">:</div>
<div class="t " style="left:35.3px;top:63.00px;">1687022.emb</div>
<div class="t " style="left:28px;top:76.20px;">:</div>
<div class="t " style="left:35.3px;top:76.20px;">Colorway 1</div>
<div class="t " style="left:559.3px;top:7.00px;">:</div>
<div class="t " style="left:566.8px;top:7.00px;">16497</div>
<div class="t " style="left:559.3px;top:20.20px;">:</div>
<div class="t " style="left:566.8px;top:20.20px;">2</div>
<div class="t " style="left:559.3px;top:33.40px;">:</div>
<div class="t " style="left:566.8px;top:33.40px;">2095.4&#8201;mm</div>
<div class="t " style="left:559.3px;top:46.60px;">:</div>
<div class="t " style="left:566.8px;top:46.60px;">618.1&#8201;mm</div>
<div class="t " style="left:559.3px;top:59.80px;">:</div>
<div class="t " style="left:566.8px;top:59.80px;">0.12</div>
<div class="t " style="left:445px;top:90.00px;">:</div>
<div class="t b" style="left:403px;top:103.00px;">#</div>
<div class="t b" style="left:415px;top:103.00px;">N#</div>
<div class="t b" style="left:451px;top:103.00px;">St.</div>
<div class="t b" style="left:522px;top:103.00px;">Brand</div>
<div style="position:absolute;left:403px;top:113px;width:6px;height:1px;background:#000"></div><div style="position:absolute;left:415px;top:113px;width:14px;height:1px;background:#000"></div><div style="position:absolute;left:451px;top:113px;width:16px;height:1px;background:#000"></div><div style="position:absolute;left:470px;top:113px;width:22px;height:1px;background:#000"></div><div style="position:absolute;left:497px;top:113px;width:22px;height:1px;background:#000"></div><div style="position:absolute;left:522px;top:113px;width:30px;height:1px;background:#000"></div><div style="position:absolute;left:557px;top:113px;width:22px;height:1px;background:#000"></div><div style="position:absolute;left:583px;top:113px;width:34px;height:1px;background:#000"></div><div class="t " style="left:403.2px;top:117.00px;">1</div>
<div class="t " style="left:409.5px;top:117.00px;">.</div>
<div class="t " style="left:414.6px;top:117.00px;">2</div>
<div class="sw" style="left:432px;top:115px;background:#00f"></div>
<div class="t " style="left:444.9px;top:117.00px;">3028</div>
<div class="t " style="left:485.6px;top:117.00px;">2</div>
<div class="t " style="left:496.3px;top:117.00px;">Blue</div>
<div class="t " style="left:522px;top:117.00px;">Default</div>
<div class="t " style="left:583px;top:117.00px;">#1 (20)</div>
<div class="t " style="left:403.2px;top:130.00px;">2</div>
<div class="t " style="left:409.5px;top:130.00px;">.</div>
<div class="t " style="left:414.6px;top:130.00px;">3</div>
<div class="sw" style="left:432px;top:128px;background:#f00"></div>
<div class="t " style="left:444.9px;top:130.00px;">2631</div>
<div class="t " style="left:485.6px;top:130.00px;">3</div>
<div class="t " style="left:496.3px;top:130.00px;">Red</div>
<div class="t " style="left:522px;top:130.00px;">Default</div>
<div class="t " style="left:403.2px;top:143.00px;">3</div>
<div class="t " style="left:409.5px;top:143.00px;">.</div>
<div class="t " style="left:414.6px;top:143.00px;">2</div>
<div class="sw" style="left:432px;top:142px;background:#00f"></div>
<div class="t " style="left:444.9px;top:143.00px;">2491</div>
<div class="t " style="left:485.6px;top:143.00px;">2</div>
<div class="t " style="left:496.3px;top:143.00px;">Blue</div>
<div class="t " style="left:522px;top:143.00px;">Default</div>
<div class="t " style="left:583px;top:143.00px;">#1 (16)</div>
<div class="t " style="left:403.2px;top:156.00px;">4</div>
<div class="t " style="left:409.5px;top:156.00px;">.</div>
<div class="t " style="left:414.6px;top:156.00px;">3</div>
<div class="sw" style="left:432px;top:155px;background:#f00"></div>
<div class="t " style="left:444.9px;top:156.00px;">2669</div>
<div class="t " style="left:485.6px;top:156.00px;">3</div>
<div class="t " style="left:496.3px;top:156.00px;">Red</div>
<div class="t " style="left:522px;top:156.00px;">Default</div>
<div class="t " style="left:403.2px;top:170.00px;">5</div>
<div class="t " style="left:409.5px;top:170.00px;">.</div>
<div class="t " style="left:414.6px;top:170.00px;">2</div>
<div class="sw" style="left:432px;top:168px;background:#00f"></div>
<div class="t " style="left:444.9px;top:170.00px;">3051</div>
<div class="t " style="left:485.6px;top:170.00px;">2</div>
<div class="t " style="left:496.3px;top:170.00px;">Blue</div>
<div class="t " style="left:522px;top:170.00px;">Default</div>
<div class="t " style="left:583px;top:170.00px;">#1 (20)</div>
<div class="t " style="left:403.2px;top:183.00px;">6</div>
<div class="t " style="left:409.5px;top:183.00px;">.</div>
<div class="t " style="left:414.6px;top:183.00px;">3</div>
<div class="sw" style="left:432px;top:182px;background:#f00"></div>
<div class="t " style="left:444.9px;top:183.00px;">2625</div>
<div class="t " style="left:485.6px;top:183.00px;">3</div>
<div class="t " style="left:496.3px;top:183.00px;">Red</div>
<div class="t " style="left:522px;top:183.00px;">Default</div>
<div class="logo">6xiu.com</div>
</body></html>
